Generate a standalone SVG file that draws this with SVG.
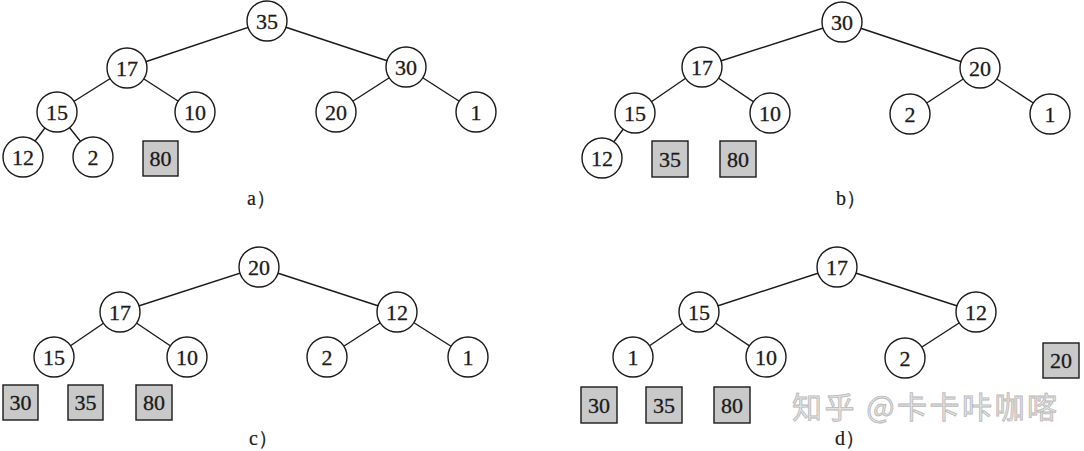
<svg xmlns="http://www.w3.org/2000/svg" width="1084" height="451" viewBox="0 0 1084 451">
<style>
.n circle{fill:#fff;stroke:#1a1a1a;stroke-width:1.4}
.b rect{fill:#c9c9c9;stroke:#1a1a1a;stroke-width:1.4}
text{font-family:"Liberation Serif","Times New Roman",serif;font-size:22px;fill:#1a1a1a;stroke:#1a1a1a;stroke-width:0.3;text-anchor:middle}
.lbl{font-size:20px;text-anchor:start;stroke-width:0.2}
#edges line{stroke:#1a1a1a;stroke-width:1.4}
.wm{font-family:"Noto Sans CJK SC",sans-serif;font-size:30px;fill:#e2e2e2;stroke:#b8b8b8;stroke-width:0.8;text-anchor:start}
</style>
<rect width="1084" height="451" fill="#fff"/>
<g id="edges">
<line x1="267" y1="21" x2="127" y2="68"/>
<line x1="267" y1="21" x2="406" y2="67"/>
<line x1="127" y1="68" x2="57" y2="112"/>
<line x1="127" y1="68" x2="195" y2="112"/>
<line x1="406" y1="67" x2="336" y2="112"/>
<line x1="406" y1="67" x2="476" y2="112"/>
<line x1="57" y1="112" x2="23" y2="157"/>
<line x1="57" y1="112" x2="93" y2="157"/>
<line x1="842" y1="22" x2="702" y2="67"/>
<line x1="842" y1="22" x2="980" y2="68"/>
<line x1="702" y1="67" x2="635" y2="113"/>
<line x1="702" y1="67" x2="770" y2="113"/>
<line x1="980" y1="68" x2="910" y2="114"/>
<line x1="980" y1="68" x2="1050" y2="114"/>
<line x1="635" y1="113" x2="602" y2="158"/>
<line x1="259" y1="267" x2="120" y2="312"/>
<line x1="259" y1="267" x2="397" y2="312"/>
<line x1="120" y1="312" x2="54" y2="357"/>
<line x1="120" y1="312" x2="187" y2="357"/>
<line x1="397" y1="312" x2="327" y2="357"/>
<line x1="397" y1="312" x2="468" y2="357"/>
<line x1="837" y1="267" x2="699" y2="312"/>
<line x1="837" y1="267" x2="976" y2="312"/>
<line x1="699" y1="312" x2="633" y2="357"/>
<line x1="699" y1="312" x2="766" y2="357"/>
<line x1="976" y1="312" x2="905" y2="358"/>
</g>
<g id="a35" class="n"><circle cx="267" cy="21" r="20"/><text x="267" y="28.5">35</text></g>
<g id="a17" class="n"><circle cx="127" cy="68" r="20"/><text x="127" y="75.5">17</text></g>
<g id="a30" class="n"><circle cx="406" cy="67" r="20"/><text x="406" y="74.5">30</text></g>
<g id="a15" class="n"><circle cx="57" cy="112" r="20"/><text x="57" y="119.5">15</text></g>
<g id="a10" class="n"><circle cx="195" cy="112" r="20"/><text x="195" y="119.5">10</text></g>
<g id="a20" class="n"><circle cx="336" cy="112" r="20"/><text x="336" y="119.5">20</text></g>
<g id="a1" class="n"><circle cx="476" cy="112" r="20"/><text x="476" y="119.5">1</text></g>
<g id="a12" class="n"><circle cx="23" cy="157" r="20"/><text x="23" y="164.5">12</text></g>
<g id="a2" class="n"><circle cx="93" cy="157" r="20"/><text x="93" y="164.5">2</text></g>
<g id="a80" class="b"><rect x="143" y="141" width="35" height="35"/><text x="160.5" y="166">80</text></g>
<text class="lbl" x="247" y="205">a）</text>
<g id="b30" class="n"><circle cx="842" cy="22" r="20"/><text x="842" y="29.5">30</text></g>
<g id="b17" class="n"><circle cx="702" cy="67" r="20"/><text x="702" y="74.5">17</text></g>
<g id="b20" class="n"><circle cx="980" cy="68" r="20"/><text x="980" y="75.5">20</text></g>
<g id="b15" class="n"><circle cx="635" cy="113" r="20"/><text x="635" y="120.5">15</text></g>
<g id="b10" class="n"><circle cx="770" cy="113" r="20"/><text x="770" y="120.5">10</text></g>
<g id="b2" class="n"><circle cx="910" cy="114" r="20"/><text x="910" y="121.5">2</text></g>
<g id="b1" class="n"><circle cx="1050" cy="114" r="20"/><text x="1050" y="121.5">1</text></g>
<g id="b12" class="n"><circle cx="602" cy="158" r="20"/><text x="602" y="165.5">12</text></g>
<g id="b35" class="b"><rect x="652" y="141" width="36" height="36"/><text x="670" y="166.5">35</text></g>
<g id="b80" class="b"><rect x="720" y="141" width="36" height="36"/><text x="738" y="166.5">80</text></g>
<text class="lbl" x="836" y="205">b）</text>
<g id="c20" class="n"><circle cx="259" cy="267" r="20"/><text x="259" y="274.5">20</text></g>
<g id="c17" class="n"><circle cx="120" cy="312" r="20"/><text x="120" y="319.5">17</text></g>
<g id="c12" class="n"><circle cx="397" cy="312" r="20"/><text x="397" y="319.5">12</text></g>
<g id="c15" class="n"><circle cx="54" cy="357" r="20"/><text x="54" y="364.5">15</text></g>
<g id="c10" class="n"><circle cx="187" cy="357" r="20"/><text x="187" y="364.5">10</text></g>
<g id="c2" class="n"><circle cx="327" cy="357" r="20"/><text x="327" y="364.5">2</text></g>
<g id="c1" class="n"><circle cx="468" cy="357" r="20"/><text x="468" y="364.5">1</text></g>
<g id="c30" class="b"><rect x="3" y="385" width="35" height="35"/><text x="20.5" y="410">30</text></g>
<g id="c35" class="b"><rect x="68" y="385" width="35" height="35"/><text x="85.5" y="410">35</text></g>
<g id="c80" class="b"><rect x="136" y="385" width="36" height="35"/><text x="154" y="410">80</text></g>
<text class="lbl" x="249" y="445">c）</text>
<g id="d17" class="n"><circle cx="837" cy="267" r="20"/><text x="837" y="274.5">17</text></g>
<g id="d15" class="n"><circle cx="699" cy="312" r="20"/><text x="699" y="319.5">15</text></g>
<g id="d12" class="n"><circle cx="976" cy="312" r="20"/><text x="976" y="319.5">12</text></g>
<g id="d1" class="n"><circle cx="633" cy="357" r="20"/><text x="633" y="364.5">1</text></g>
<g id="d10" class="n"><circle cx="766" cy="357" r="20"/><text x="766" y="364.5">10</text></g>
<g id="d2" class="n"><circle cx="905" cy="358" r="20"/><text x="905" y="365.5">2</text></g>
<g id="d20" class="b"><rect x="1043" y="343" width="36" height="35"/><text x="1061" y="368">20</text></g>
<g id="d30" class="b"><rect x="581" y="387" width="36" height="36"/><text x="599" y="412.5">30</text></g>
<g id="d35" class="b"><rect x="646" y="387" width="36" height="36"/><text x="664" y="412.5">35</text></g>
<g id="d80" class="b"><rect x="714" y="387" width="36" height="36"/><text x="732" y="412.5">80</text></g>
<text class="lbl" x="835" y="445">d）</text>
<text class="wm" x="792" y="418" textLength="265" lengthAdjust="spacing">知乎 @卡卡咔咖喀</text>
</svg>
